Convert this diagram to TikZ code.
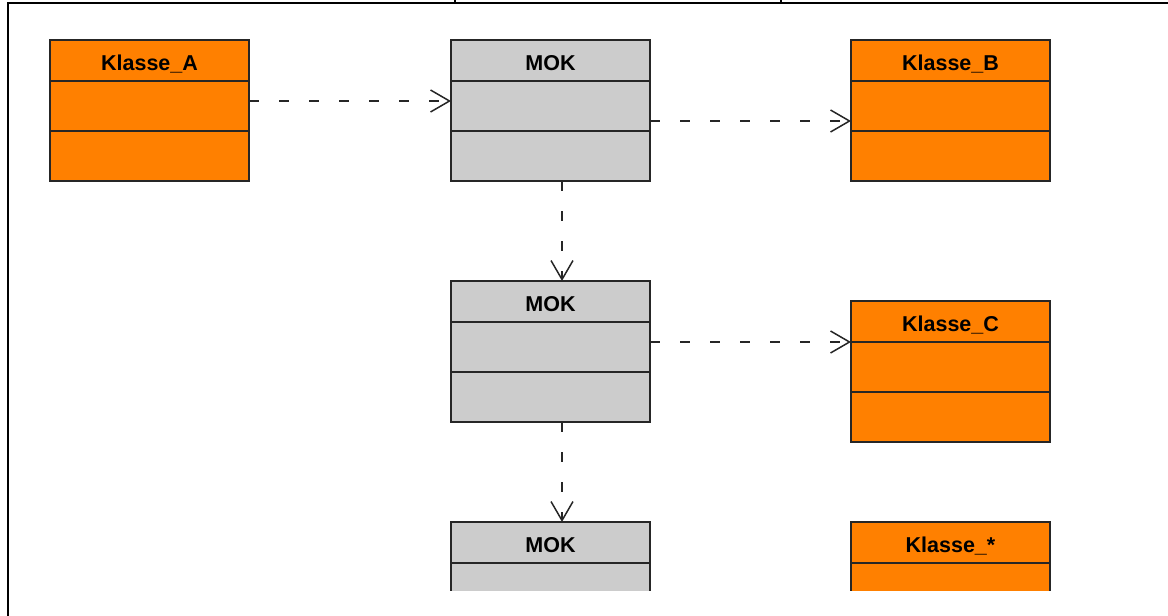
\documentclass[tikz,border=0pt]{standalone}
\usepackage{fontspec}
\setmainfont{Liberation Sans}
\usetikzlibrary{arrows.meta, positioning, calc}
\definecolor{KlasseOrange}{RGB}{255,128,0}
\definecolor{MOKGrau}{RGB}{204,204,204}

\begin{document}
\begin{tikzpicture}[x=1pt, y=-1pt,
    box/.style={draw=black!85, line width=1.6pt, minimum width=199pt, inner sep=0pt, outer sep=0pt},
    kopf/.style={box, minimum height=41pt, text height=19pt, text depth=0pt,
                 font=\fontsize{21.5}{24}\selectfont\bfseries},
    fach/.style={box, minimum height=50pt},
    abh/.style={draw=black!85, line width=1.5pt, dash pattern=on 10pt off 20pt,
                -{Straight Barb[length=19pt, width=22pt]}}]
    \useasboundingbox (0,0) rectangle (1168,616);

    % Rahmen
    \draw[line width=2.5pt] (8,616) -- (8,3) -- (1168,3);
    \draw[line width=1.5pt] (455,0) -- (455,3) (781,0) -- (781,3);

    \begin{scope}
    \clip (0,0) rectangle (1168,590);
    % Klassen: Kopf, Attribute, Operationen
    \foreach \name/\pos/\titel/\farbe in {
        klasseA/{50,40}/Klasse\_A/KlasseOrange,
        mok1/{451,40}/MOK/MOKGrau,
        klasseB/{851,40}/Klasse\_B/KlasseOrange,
        mok2/{451,281}/MOK/MOKGrau,
        klasseC/{851,301}/Klasse\_C/KlasseOrange,
        mok3/{451,522}/MOK/MOKGrau,
        klasseX/{851,522}/Klasse\_*/KlasseOrange} {
        \node[kopf, fill=\farbe, anchor=north west] (\name) at (\pos) {\titel};
        \node[fach, fill=\farbe, below=0pt of \name] (\name-attr) {};
        \node[fach, fill=\farbe, below=0pt of \name-attr] (\name-op) {};
    }

    % Abhaengigkeiten
    \draw[abh] ($(klasseA.north east)+(0,61)$) -- ($(mok1.north west)+(0,61)$);
    \draw[abh] ($(mok1.north east)+(0,81)$) -- ($(klasseB.north west)+(0,81)$);
    \draw[abh] ($(mok1-op.south)+(11.5,0)$) -- ($(mok2.north)+(11.5,0)$);
    \draw[abh] ($(mok2.north east)+(0,61)$) -- (klasseC-attr.north west);
    \draw[abh] ($(mok2-op.south)+(11.5,0)$) -- ($(mok3.north)+(11.5,0)$);
    \end{scope}
\end{tikzpicture}
\end{document}
